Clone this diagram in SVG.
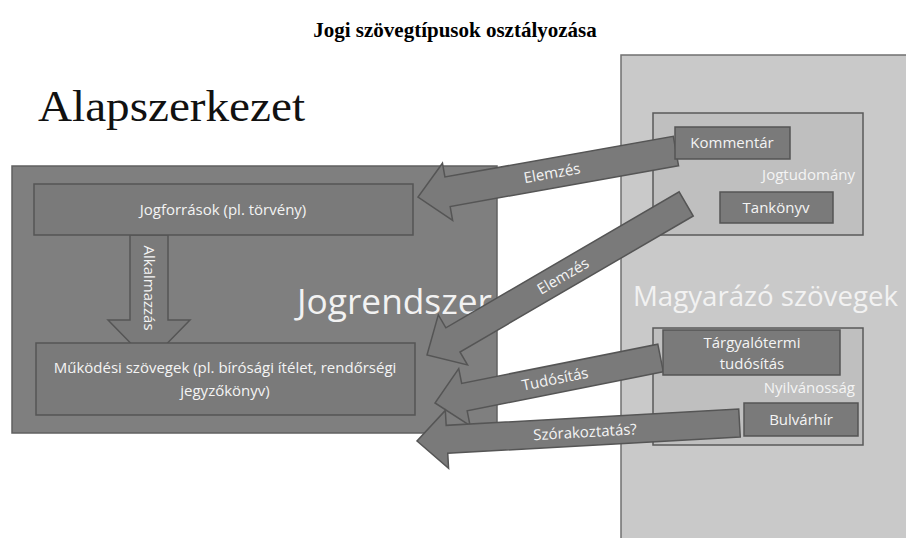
<svg xmlns="http://www.w3.org/2000/svg" width="906" height="538" viewBox="0 0 906 538">
<style>
.lt{font-family:"Open Sans","Liberation Sans",sans-serif;font-size:15px;fill:#f4f4f4;text-anchor:middle}
.dk{fill:#7a7a7a;stroke:#555;stroke-width:1.5}
.sub{fill:#bfbfbf;stroke:#5a5a5a;stroke-width:1.5}
.arr{fill:#7a7a7a;stroke:#555;stroke-width:1.5;stroke-linejoin:miter}
.big{font-family:"Open Sans","Liberation Sans",sans-serif;fill:#f2f2f2}
</style>
<rect width="906" height="538" fill="#ffffff"/>
<text x="455" y="37" font-family="Liberation Serif, serif" font-weight="bold" font-size="21" text-anchor="middle" fill="#000">Jogi szövegtípusok osztályozása</text>
<text x="38" y="121" font-family="Liberation Serif, serif" font-size="45" fill="#111" textLength="267" lengthAdjust="spacingAndGlyphs">Alapszerkezet</text>

<g id="jogrendszer">
<rect x="12" y="166" width="485" height="267" fill="#7f7f7f" stroke="#606060" stroke-width="1.5"/>
<text class="big" x="297" y="314" font-size="34" textLength="195" lengthAdjust="spacingAndGlyphs">Jogrendszer</text>
</g>
<g id="magyarazo">
<rect x="621" y="55" width="290" height="490" fill="#c9c9c9" stroke="#707070" stroke-width="1.5"/>
<text class="big" x="633" y="306" font-size="28" textLength="265" lengthAdjust="spacingAndGlyphs">Magyarázó szövegek</text>
</g>
<g id="jogtudomany">
<rect class="sub" x="653" y="113" width="210" height="122"/>
<text class="lt" x="855" y="180" style="text-anchor:end">Jogtudomány</text>
</g>
<g id="nyilvanossag">
<rect class="sub" x="653" y="328" width="210" height="117"/>
<text class="lt" x="855" y="393" style="text-anchor:end">Nyilvánosság</text>
</g>

<g id="connectors">
<polygon class="arr" points="130,235 168,235 168,320 190,320 149,362 108,320 130,320"/>
<text class="lt" transform="translate(149,288) rotate(90)" dy="0.35em">Alkalmazzás</text>

<polygon class="arr" transform="translate(418,197) rotate(169.9)" points="-262,-15 -30,-15 -30,-29 0,0 -30,29 -30,15 -262,15"/>
<text class="lt" transform="translate(552,173) rotate(-10.1)" dy="0.35em">Elemzés</text>

<polygon class="arr" transform="translate(427,355) rotate(149.76)" points="-300,-14 -30,-14 -30,-29 0,0 -30,29 -30,14 -300,14"/>
<text class="lt" transform="translate(563,276) rotate(-30.2)" dy="0.35em">Elemzés</text>

<polygon class="arr" transform="translate(435,403) rotate(168.7)" points="-230,-14 -30,-14 -30,-29 0,0 -30,29 -30,14 -230,14"/>
<text class="lt" transform="translate(555,379) rotate(-11.3)" dy="0.35em">Tudósítás</text>

<polygon class="arr" transform="translate(417,441) rotate(176.8)" points="-323,-14 -30,-14 -30,-29 0,0 -30,29 -30,14 -323,14"/>
<text class="lt" transform="translate(585,432) rotate(-3.2)" dy="0.35em">Szórakoztatás?</text>
</g>

<g id="jogforrasok">
<rect class="dk" x="34" y="184" width="379" height="51"/>
<text class="lt" x="223" y="215">Jogforrások (pl. törvény)</text>
</g>
<g id="mukodesi">
<rect class="dk" x="36" y="343" width="379" height="72"/>
<text class="lt" x="225" y="373">Működési szövegek (pl. bírósági ítélet, rendőrségi</text>
<text class="lt" x="225" y="396">jegyzőkönyv)</text>
</g>
<g id="kommentar">
<rect class="dk" x="675" y="127" width="115" height="32"/>
<text class="lt" x="732" y="148">Kommentár</text>
</g>
<g id="tankonyv">
<rect class="dk" x="720" y="192" width="113" height="31"/>
<text class="lt" x="776" y="213">Tankönyv</text>
</g>
<g id="targyalotermi">
<rect class="dk" x="663" y="330" width="177" height="45"/>
<text class="lt" x="752" y="348">Tárgyalótermi</text>
<text class="lt" x="752" y="369">tudósítás</text>
</g>
<g id="bulvarhir">
<rect class="dk" x="744" y="403" width="114" height="33"/>
<text class="lt" x="801" y="425">Bulvárhír</text>
</g>
</svg>
